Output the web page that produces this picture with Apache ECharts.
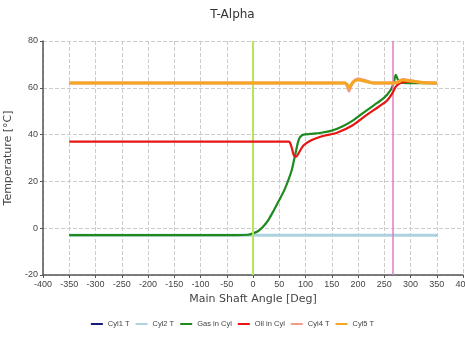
<!DOCTYPE html>
<html><head><meta charset="utf-8">
<script src="https://cdn.jsdelivr.net/npm/echarts@6/dist/echarts.min.js"></script>
<style>html,body{margin:0;padding:0;background:#fff}#c{width:465px;height:342px}</style>
</head><body><div id="c"></div>
<script>
var seriesNames = ['Cyl1 T','Cyl2 T','Gas in Cyl','Oil in Cyl','Cyl4 T','Cyl5 T'];
var xTicks = [-400,-350,-300,-250,-200,-150,-100,-50,0,50,100,150,200,250,300,350,400];
var yTicks = [-20,0,20,40,60,80];
var cyl1 = [[-350,-3],[0,-3],[350,-3]];
var cyl2 = [[-350,-3],[0,-3],[350,-3]];
var gas = [[-350,-3],[-100,-3],[-30,-3],[-10,-2.8],[0,-2.2],[10,-1.2],[20,0.8],[30,3.8],[40,7.8],[50,12],[60,16.5],[68,21],[74,25],[78,29],[82,33],[86,37],[90,39],[96,40],[110,40.3],[130,40.8],[150,41.7],[170,43.5],[190,46],[210,49.3],[230,52.5],[250,55.8],[262,59],[268,62],[272,65.5],[275,64],[280,62.3],[300,62],[350,62]];
var oil = [[-350,37],[68,37],[73,35],[78,31],[82,30.6],[88,32.5],[96,35.3],[110,37.5],[130,39.2],[160,40.8],[190,44],[216,48.3],[240,52],[255,54.5],[265,57.5],[272,60.5],[280,62],[295,62.6],[320,62.3],[350,62]];
var cyl4 = [[-350,62],[175,62],[180,60.5],[183,58.6],[186,60.5],[192,62.8],[199,63.8],[215,63],[230,62],[265,62],[275,62.4],[285,63.6],[300,63.1],[320,62.4],[350,62]];
var cyl5 = [[-350,62],[175,62],[180,61.2],[183,59.9],[186,61],[192,62.7],[200,63.3],[215,62.7],[230,62],[265,62],[275,62.3],[285,63.3],[300,62.9],[320,62.3],[350,62]];
var vLines = [0, 267];

var colors = ['#1a1a7a','#add3e0','#1f8a1f','#e81515','#f29a85','#f5a623'];
var widths = [1.5,3,2.2,2.2,3,3];
var datas = [cyl1,cyl2,gas,oil,cyl4,cyl5];
var font = 'Liberation Sans Narrow, Arial Narrow, sans-serif';

var series = seriesNames.map(function(n,i){
  return {name:n,type:'line',data:datas[i],smooth:0.3,showSymbol:false,
    lineStyle:{color:colors[i],width:widths[i]},itemStyle:{color:colors[i]},z:2+i};
});
series[0].markLine = {silent:true,symbol:'none',label:{show:false},
  data:[{xAxis:vLines[0],lineStyle:{color:'#b8e65a',width:2,type:'solid'}},
        {xAxis:vLines[1],lineStyle:{color:'#e07cc4',width:1.5,type:'solid'}}]};

var chart = echarts.init(document.getElementById('c'));
chart.setOption({
  animation:false,
  title:{text:'T-Alpha',left:'center',top:4,textStyle:{fontSize:12,fontWeight:'normal',color:'#333',fontFamily:'DejaVu Sans, sans-serif'}},
  legend:{bottom:9,left:'center',itemWidth:12,itemHeight:2,itemGap:6,icon:'rect',
    textStyle:{fontSize:7.5,color:'#444',fontFamily:font},data:seriesNames},
  grid:{left:43,right:2,top:41,bottom:67,containLabel:false,outerBoundsMode:'none'},
  xAxis:{type:'value',min:xTicks[0],max:xTicks[xTicks.length-1],interval:50,
    name:'Main Shaft Angle [Deg]',nameLocation:'middle',nameGap:19,
    nameTextStyle:{fontSize:11,color:'#444',fontFamily:'DejaVu Sans, sans-serif'},
    axisLine:{onZero:false,lineStyle:{color:'#555',width:1.5}},axisTick:{show:true,length:3},
    axisLabel:{fontSize:9,color:'#444',fontFamily:font,margin:5},
    splitLine:{show:true,lineStyle:{color:'#ccc',type:'dashed'}}},
  yAxis:{type:'value',min:yTicks[0],max:yTicks[yTicks.length-1],interval:20,
    name:'Temperature [°C]',nameLocation:'middle',nameGap:24,nameRotate:90,
    nameTextStyle:{fontSize:11,color:'#444',fontFamily:'DejaVu Sans, sans-serif'},
    axisLine:{show:true,onZero:false,lineStyle:{color:'#555',width:1.5}},axisTick:{show:true,length:3},
    axisLabel:{fontSize:9,color:'#444',fontFamily:font,margin:5},
    splitLine:{show:true,lineStyle:{color:'#ccc',type:'dashed'}}},
  series:series
});
</script></body></html>
